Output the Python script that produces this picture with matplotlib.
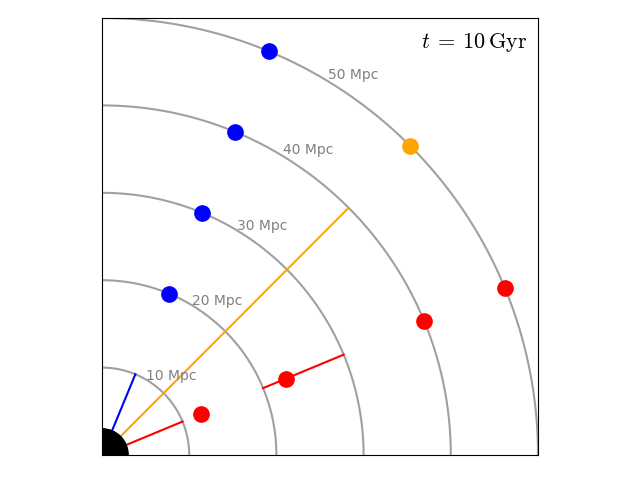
import numpy as np
import matplotlib.pyplot as plt
from matplotlib.patches import Circle

plt.rcParams["mathtext.fontset"] = "cm"

# comoving shells (Mpc)
RADII = [10, 20, 30, 40, 50]
SHELL_LABELS = ["10 Mpc", "20 Mpc", "30 Mpc", "40 Mpc", "50 Mpc"]

# galaxies: direction (deg) and distance (Mpc)
BLUE_ANGLE = 67.5
BLUE_R = [20, 30, 40, 50]
RED_ANGLE = 22.5
RED_R = [12.3, 22.8, 40, 50]
ORANGE_ANGLE = 45.0
ORANGE_R = [50]

# light paths: (angle, r_start, r_end, colour)
PATHS = [
    (67.5, 0, 10, "blue"),
    (45.0, 0, 40, "orange"),
    (22.5, 0, 10, "red"),
    (22.5, 20, 30, "red"),
]

TITLE = r"$t\:=\:10\,\mathrm{Gyr}$"


def polar(ang, r):
    a = np.deg2rad(ang)
    r = np.asarray(r, dtype=float)
    return r * np.cos(a), r * np.sin(a)


fig = plt.figure(figsize=(6.4, 4.8), dpi=100)
ax = fig.add_axes([102 / 640, 25 / 480, 436 / 640, 437 / 480])

th = np.linspace(0, np.pi / 2, 300)
for r, lab in zip(RADII, SHELL_LABELS):
    ax.plot(r * np.cos(th), r * np.sin(th), color="#a0a0a0", lw=1.5, zorder=1)
    ax.text(0.52 * r - 0.1, 0.86 * r + 0.45, lab, color="gray", fontsize=10,
            ha="left", va="center")

for ang, r0, r1, c in PATHS:
    x, y = polar(ang, [r0, r1])
    ax.plot(x, y, color=c, lw=1.5, zorder=2)

for ang, rs, c in [(BLUE_ANGLE, BLUE_R, "blue"),
                   (RED_ANGLE, RED_R, "red"),
                   (ORANGE_ANGLE, ORANGE_R, "orange")]:
    x, y = polar(ang, rs)
    ax.plot(x, y, "o", color=c, ms=11, zorder=3)

ax.add_patch(Circle((0, 0), 3.0, color="black", zorder=4))

ax.text(0.976, 0.97, TITLE, transform=ax.transAxes, ha="right", va="top",
        fontsize=16)

ax.set_xlim(0, 50)
ax.set_ylim(0, 50)
ax.set_xticks([])
ax.set_yticks([])

fig.savefig("out.png", dpi=100)
